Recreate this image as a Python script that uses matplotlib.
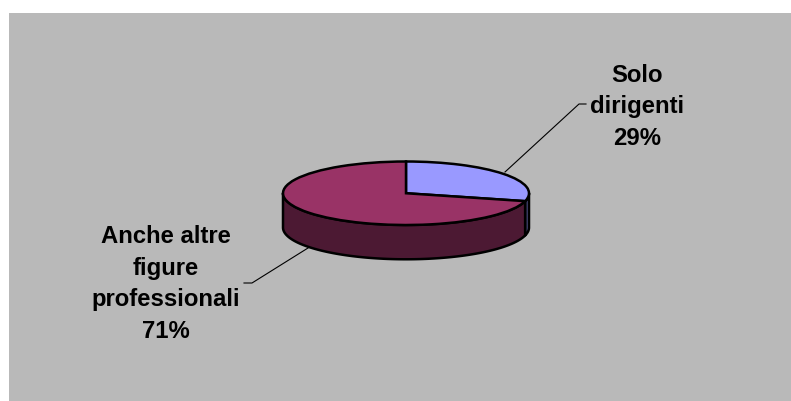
import numpy as np
import matplotlib
matplotlib.use("Agg")
import matplotlib.pyplot as plt

W, H = 791, 401
BG_GREY   = "#b9b9b9"
labels    = ["Solo\ndirigenti\n29%", "Anche altre\nfigure\nprofessionali\n71%"]
shares    = [29, 71]
top_cols  = ["#9999ff", "#993366"]
side_cols = ["#4c4c80", "#4c1933"]
DEPTH     = 1.08          ## wall height, in pie radii of the squashed y axis

def px_axes(fig, x0, y0, x1, y1):                  ## axes from pixel box, y from top
    return fig.add_axes([x0 / W, 1 - y1 / H, (x1 - x0) / W, (y1 - y0) / H])

fig = plt.figure(figsize=(W / 100, H / 100), dpi=100, facecolor="white")

bg = px_axes(fig, 0, 0, W, H)
bg.set_xlim(0, W); bg.set_ylim(H, 0); bg.axis("off")
bg.add_patch(plt.Rectangle((9, 13), W - 9, H - 13, fc=BG_GREY, ec="none"))
bg.plot([505, 579, 586], [172, 104, 104], color="black", lw=0.8)
bg.plot([308, 252, 244], [248, 283, 283], color="black", lw=0.8)
bg.text(637, 107, labels[0], ha="center", va="center", fontsize=17.2, fontweight="bold",
        family="Liberation Sans", linespacing=1.49)
bg.text(166, 284, labels[1], ha="center", va="center", fontsize=17.2, fontweight="bold",
        family="Liberation Sans", linespacing=1.49)

ax = px_axes(fig, 283, 161.5, 529, 225)
wedges, _ = ax.pie(shares, colors=top_cols, startangle=90, counterclock=False, radius=1,
                   wedgeprops=dict(edgecolor="black", linewidth=1.8))
ax.set_aspect("auto"); ax.set_xlim(-1, 1); ax.set_ylim(-1, 1)
for w in wedges:
    w.set_clip_on(False); w.set_zorder(5)

## walls: only the front half of the rim is visible
bounds = 90 - np.cumsum([0] + shares) * 3.6
for i in range(len(shares)):
    hi, lo = bounds[i], bounds[i + 1]
    hi_v, lo_v = min(hi, 0), max(lo, -180)
    if lo_v >= hi_v:
        continue
    th = np.radians(np.linspace(lo_v, hi_v, 200))
    xs, ys = np.cos(th), np.sin(th)
    ax.fill(np.r_[xs, xs[::-1]], np.r_[ys, ys[::-1] - DEPTH], fc=side_cols[i], ec="black",
            lw=1.8, clip_on=False, zorder=2, joinstyle="round")

fig.savefig("out.png", dpi=100, facecolor="white")
